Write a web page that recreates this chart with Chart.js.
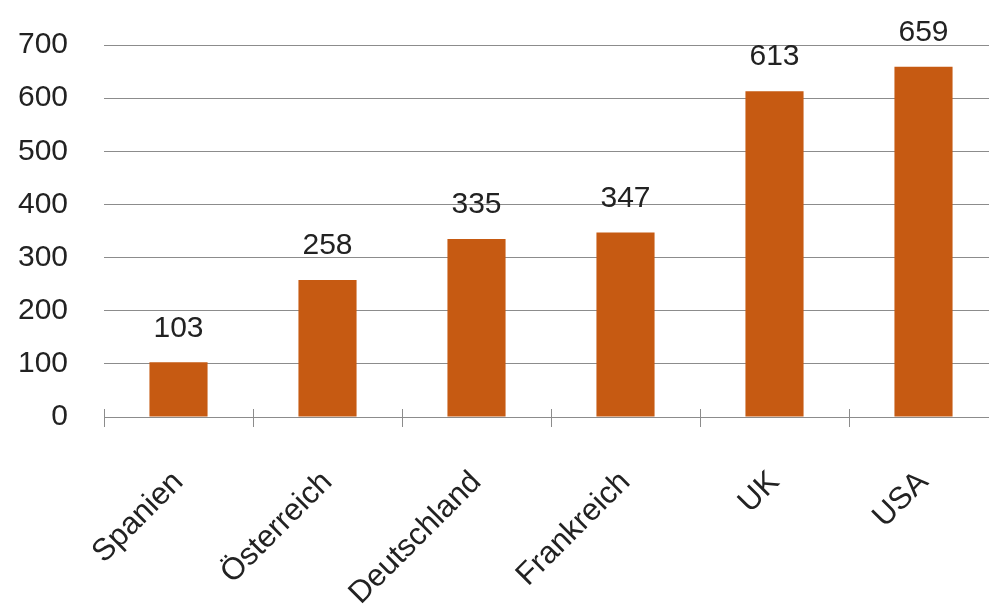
<!DOCTYPE html>
<html>
<head>
<meta charset="utf-8">
<script src="https://cdn.jsdelivr.net/npm/chart.js@4/dist/chart.umd.min.js"></script>
<style>
    html, body { margin: 0; padding: 0; background: #fff; overflow: hidden; }
    #wrap { width: 998px; height: 607px; }
</style>
</head>
<body>
<div id="wrap"><canvas id="countryChart" width="998" height="607"></canvas></div>
<script>
const countries = ['Spanien', 'Österreich', 'Deutschland', 'Frankreich', 'UK', 'USA'];
const values = [103, 258, 335, 347, 613, 659];
const yTicks = [0, 100, 200, 300, 400, 500, 600, 700];

const barColor = '#C65A12';
const gridColor = '#8c8c8c';
const textColor = '#222222';
const fontFamily = '"Liberation Sans", Arial, sans-serif';

// value labels above the bars
const valueLabels = {
    id: 'valueLabels',
    afterDatasetsDraw(chart) {
        const ctx = chart.ctx;
        const meta = chart.getDatasetMeta(0);
        ctx.save();
        ctx.font = '30px ' + fontFamily;
        ctx.fillStyle = textColor;
        ctx.textAlign = 'center';
        ctx.textBaseline = 'bottom';
        meta.data.forEach((bar, i) => {
            ctx.fillText(String(values[i]), bar.x, bar.y - 19);
        });
        ctx.restore();
    }
};

// category separator ticks cross the axis a little
const crossTicks = {
    id: 'crossTicks',
    afterDraw(chart) {
        const x = chart.scales.x;
        const ctx = chart.ctx;
        const n = countries.length;
        ctx.save();
        ctx.strokeStyle = gridColor;
        ctx.lineWidth = 1;
        ctx.beginPath();
        for (let i = 0; i < n; i++) {
            const px = Math.round(x.left + i * x.width / n) + 0.5;
            ctx.moveTo(px, x.top - 8);
            ctx.lineTo(px, x.top);
        }
        ctx.stroke();
        ctx.restore();
    }
};

new Chart(document.getElementById('countryChart').getContext('2d'), {
    type: 'bar',
    data: {
        labels: countries,
        datasets: [{
            data: values,
            backgroundColor: barColor,
            barPercentage: 0.39,
            categoryPercentage: 1.0
        }]
    },
    options: {
        responsive: false,
        animation: false,
        layout: { padding: { top: 45, right: 0, bottom: 0, left: 0 } },
        plugins: {
            legend: { display: false },
            tooltip: { enabled: false }
        },
        scales: {
            x: {
                grid: {
                    offset: true,
                    drawOnChartArea: false,
                    drawTicks: true,
                    tickLength: 10,
                    color: gridColor
                },
                border: { display: true, color: gridColor },
                ticks: {
                    maxRotation: 45,
                    minRotation: 45,
                    padding: 37,
                    color: textColor,
                    font: { family: fontFamily, size: 31 }
                },
                afterFit(scale) { scale.height = 190; }
            },
            y: {
                min: 0,
                max: 700,
                afterBuildTicks(scale) {
                    scale.ticks = yTicks.map(v => ({ value: v }));
                },
                // transparent ticks push the labels left without adding top padding
                grid: { color: gridColor, drawTicks: true, tickLength: 33, tickColor: 'rgba(0,0,0,0)' },
                border: { display: false },
                ticks: {
                    padding: 3,
                    color: textColor,
                    font: { family: fontFamily, size: 30 }
                },
                afterFit(scale) { scale.width = 104; }
            }
        }
    },
    plugins: [valueLabels, crossTicks]
});
</script>
</body>
</html>
